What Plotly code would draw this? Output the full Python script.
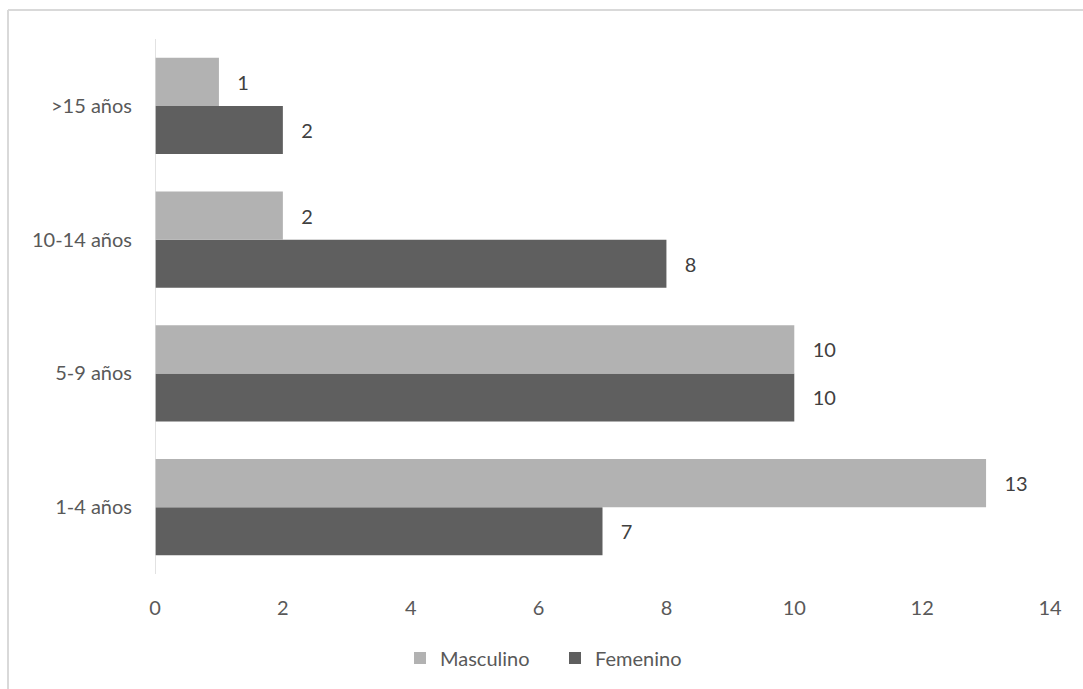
import plotly.graph_objects as go

categories = ["1-4 años", "5-9 años", "10-14 años", ">15 años"]
masculino = [13, 10, 2, 1]
femenino = [7, 10, 8, 2]
x_ticks = [0, 2, 4, 6, 8, 10, 12, 14]

W, H = 1083, 689
L, R, T, B = 155, 33, 39, 115
pw, ph = W - L - R, H - T - B

font_family = "Lato, 'Open Sans', sans-serif"
label_tpl = "\u00a0\u00a0\u00a0%{x}"

fig = go.Figure()
# Femenino first so it sits below Masculino within each group
fig.add_trace(go.Bar(
    y=categories, x=femenino, name="Femenino", orientation="h",
    marker=dict(color="#5F5F5F", line=dict(width=0)),
    texttemplate=label_tpl, textposition="outside",
    textfont=dict(size=20, color="#404040", family=font_family),
    cliponaxis=False,
))
fig.add_trace(go.Bar(
    y=categories, x=masculino, name="Masculino", orientation="h",
    marker=dict(color="#B2B2B2", line=dict(width=0)),
    texttemplate=label_tpl, textposition="outside",
    textfont=dict(size=20, color="#404040", family=font_family),
    cliponaxis=False,
))

def px_x(p):
    return (p - L) / pw

def px_y(p):
    return (H - B - p) / ph

fig.update_layout(
    width=W, height=H,
    margin=dict(l=L, r=R, t=T, b=B, pad=0),
    paper_bgcolor="white", plot_bgcolor="white",
    barmode="group", bargap=0.28, bargroupgap=0,
    font=dict(family=font_family, size=20, color="#595959"),
    uniformtext=dict(minsize=20, mode="show"),
    showlegend=True,
    legend=dict(
        orientation="h", x=px_x(400), xanchor="left", y=px_y(658), yanchor="middle",
        traceorder="reversed", font=dict(size=20, color="#595959"),
        entrywidth=110, entrywidthmode="pixels",
    ),
    xaxis=dict(
        range=[0, 14], tickvals=x_ticks, showgrid=False, zeroline=False,
        showline=False, ticks="", tickfont=dict(size=20, color="#595959"),
        ticklabelstandoff=20, fixedrange=True,
    ),
    yaxis=dict(
        categoryorder="array", categoryarray=categories,
        showgrid=False, zeroline=False, showline=False, ticks="",
        tickfont=dict(size=20, color="#595959"), ticklabelstandoff=22,
    ),
    shapes=[
        # vertical axis line at x=0
        dict(type="line", xref="x", yref="paper", x0=0, x1=0, y0=0, y1=1,
             line=dict(color="#D9D9D9", width=1.5)),
        # chart border (top and left edges)
        dict(type="line", xref="paper", yref="paper",
             x0=px_x(8), x1=px_x(1090), y0=px_y(10), y1=px_y(10),
             line=dict(color="#D9D9D9", width=2)),
        dict(type="line", xref="paper", yref="paper",
             x0=px_x(8), x1=px_x(8), y0=px_y(10), y1=px_y(700),
             line=dict(color="#D9D9D9", width=2)),
    ],
)

fig.write_html("out.html")
